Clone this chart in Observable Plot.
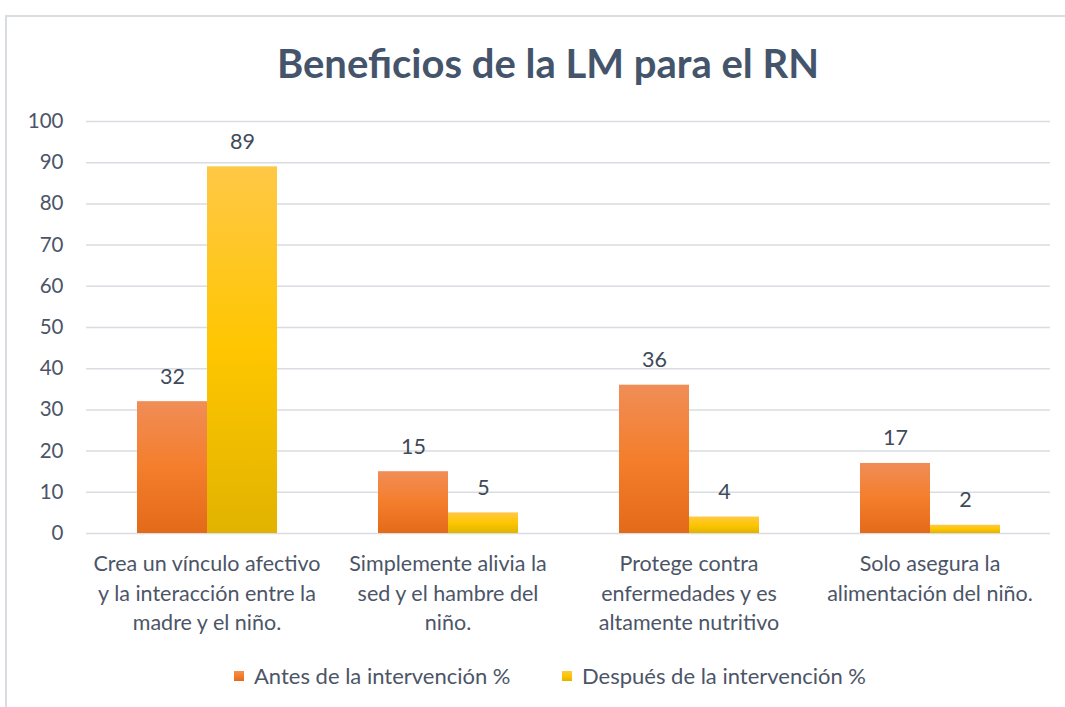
<!DOCTYPE html>
<html><head><meta charset="utf-8">
<script src="https://cdn.jsdelivr.net/npm/d3@7"></script>
<script src="https://cdn.jsdelivr.net/npm/@observablehq/plot@0.6"></script>
<style>
html,body{margin:0;padding:0;background:#fff;width:1065px;height:707px;overflow:hidden;}
body{position:relative;font-family:Lato, "Open Sans", sans-serif;}
#frame{position:absolute;left:5px;top:15px;width:1080px;height:720px;border-left:2px solid #D9DCE1;border-top:2px solid #D9DCE1;box-sizing:border-box;}
#title{position:absolute;left:0;top:38px;width:1096px;text-align:center;font-weight:700;font-size:40px;color:#44546A;line-height:50px;}
#chart{position:absolute;left:0;top:100px;}
.leg{position:absolute;top:664px;font-size:22px;color:#4C5567;line-height:24px;white-space:nowrap;}
.sw{display:inline-block;width:10px;height:10px;margin-right:10px;vertical-align:middle;position:relative;top:-2px;}
</style></head>
<body>
<div id="frame"></div>
<div id="title">Beneficios de la LM para el RN</div>
<div id="chart"></div>
<div class="leg" style="left:234px"><span class="sw" style="background:linear-gradient(#F19057,#F47D2B,#E26B1B)"></span>Antes de la intervención %</div>
<div class="leg" style="left:562px"><span class="sw" style="background:linear-gradient(#FFC845,#FFC600,#E0B300)"></span>Después de la intervención %</div>
<script>
const categories = [
  "Crea un vínculo afectivo\ny la interacción entre la\nmadre y el niño.",
  "Simplemente alivia la\nsed y el hambre del\nniño.",
  "Protege contra\nenfermedades y es\naltamente nutritivo",
  "Solo asegura la\nalimentación del niño."
];
const series = ["Antes de la intervención %", "Después de la intervención %"];
const antes = [32, 15, 36, 17];
const despues = [89, 5, 4, 2];
const yTicks = [0, 10, 20, 30, 40, 50, 60, 70, 80, 90, 100];

const antesData = categories.map((c, i) => ({cat: c, serie: series[0], value: antes[i]}));
const despuesData = categories.map((c, i) => ({cat: c, serie: series[1], value: despues[i]}));
const allData = antesData.concat(despuesData);

const chart = Plot.plot({
  width: 1065,
  height: 545,
  marginLeft: 86,
  marginRight: 15,
  marginTop: 21,
  marginBottom: 112,
  style: {fontFamily: "Lato, 'Open Sans', sans-serif", fontSize: "21px", color: "#4C5567", background: "transparent", overflow: "visible"},
  fx: {domain: categories, padding: 0, label: null},
  x: {domain: series, paddingInner: 0, paddingOuter: 0.72, axis: null},
  y: {domain: [0, 100], label: null},
  marks: [
    Plot.ruleY(yTicks, {stroke: "#D9DCE1", strokeWidth: 1.5}),
    Plot.axisY(yTicks, {tickSize: 0, tickPadding: 23, label: null, fontSize: 20.5, fill: "#4C5567"}),
    Plot.axisFx({anchor: "bottom", tickSize: 0, tickPadding: 17, label: null, lineHeight: 1.37, fontSize: 21.5, fill: "#4C5567"}),
    Plot.barY(antesData, {fx: "cat", x: "serie", y: "value", fill: "url(#gOrange)", inset: 0}),
    Plot.barY(despuesData, {fx: "cat", x: "serie", y: "value", fill: "url(#gYellow)", inset: 0}),
    Plot.text(allData, {fx: "cat", x: "serie", y: "value", text: d => String(d.value), dy: -25, fontSize: 21.5, fill: "#404A5A"})
  ]
});

d3.select(chart).insert("defs", ":first-child").html(
  '<linearGradient id="gOrange" x1="0" y1="0" x2="0" y2="1">' +
  '<stop offset="0" stop-color="#F08D57"/><stop offset="0.5" stop-color="#F47E2C"/><stop offset="1" stop-color="#E36A19"/></linearGradient>' +
  '<linearGradient id="gYellow" x1="0" y1="0" x2="0" y2="1">' +
  '<stop offset="0" stop-color="#FFC846"/><stop offset="0.5" stop-color="#FFC600"/><stop offset="1" stop-color="#E1B300"/></linearGradient>'
);

document.getElementById("chart").appendChild(chart);
</script>
</body></html>
